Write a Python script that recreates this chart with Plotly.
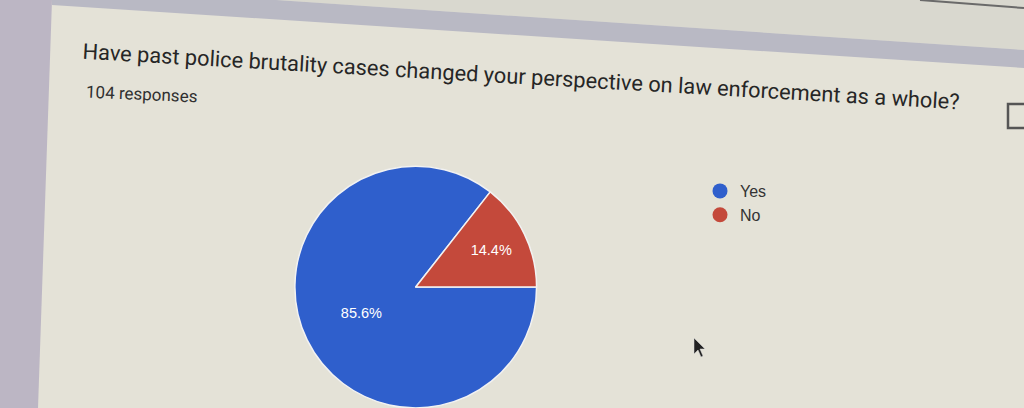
import plotly.graph_objects as go

# ---- data ----
labels = ["Yes", "No"]
counts = [89, 15]
colors = ["#2f5fcc", "#c4493b"]
title_text = "Have past police brutality cases changed your perspective on law enforcement as a whole?"
subtitle_text = "104 responses"

W, H = 1024, 408

fig = go.Figure()

fig.add_trace(go.Pie(
    labels=labels,
    values=counts,
    sort=False,
    direction="clockwise",
    rotation=90,
    marker=dict(colors=colors, line=dict(color="#f2f2f2", width=1.5)),
    texttemplate="%{percent:.1%}",
    textposition="inside",
    insidetextorientation="horizontal",
    textfont=dict(color="white", size=14.5, family="Liberation Sans, Arial"),
    domain=dict(x=[0.288, 0.524], y=[0.0, 0.593]),
    showlegend=False,
    hoverinfo="label+percent",
))

# legend entries with circular markers
for lab, col in zip(labels, colors):
    fig.add_trace(go.Scatter(
        x=[None], y=[None], mode="markers", name=lab,
        marker=dict(size=15, color=col, symbol="circle"),
        showlegend=True,
    ))

def px(x):
    return x / W

def py(y):
    return 1 - y / H

shapes = [
    # left darker strip (outside the card)
    dict(type="path", xref="paper", yref="paper",
         path=f"M 0 1 L {px(52)} 1 L {px(38)} 0 L 0 0 Z",
         fillcolor="#bcb6c4", line=dict(width=0), layer="below"),
    # area above the grey band
    dict(type="path", xref="paper", yref="paper",
         path=f"M {px(52)} 1 L 1 1 L 1 {py(50)} L {px(52)} {py(-15)} Z",
         fillcolor="#d9d8cf", line=dict(width=0), layer="below"),
    # grey band
    dict(type="path", xref="paper", yref="paper",
         path=f"M {px(52)} {py(-15)} L 1 {py(50)} L 1 {py(68)} L {px(52)} {py(5)} Z",
         fillcolor="#b9b9c4", line=dict(width=0), layer="below"),
    # thin dark line top right
    dict(type="line", xref="paper", yref="paper",
         x0=px(920), y0=py(0), x1=1, y1=py(8),
         line=dict(color="#6a6a6a", width=2), layer="below"),
    # icon at right edge
    dict(type="path", xref="paper", yref="paper",
         path=f"M {px(1024)} {py(104)} L {px(1008)} {py(104)} L {px(1008)} {py(128)} L {px(1024)} {py(128)}",
         line=dict(color="#555555", width=2.5)),
    # mouse cursor
    dict(type="path", xref="paper", yref="paper",
         path=(f"M {px(694)} {py(338)} L {px(694)} {py(354)} L {px(698)} {py(350)} "
               f"L {px(701)} {py(357)} L {px(703)} {py(356)} L {px(700)} {py(349)} "
               f"L {px(705)} {py(349)} Z"),
         fillcolor="#222222", line=dict(color="#dddddd", width=0.5)),
]

annotations = [
    dict(text=title_text, xref="paper", yref="paper",
         x=px(521), y=py(76), xanchor="center", yanchor="middle",
         showarrow=False, textangle=3.3,
         font=dict(size=21.8, color="#262626", family="Roboto, Open Sans, sans-serif")),
    dict(text=subtitle_text, xref="paper", yref="paper",
         x=px(84), y=py(94), xanchor="left", yanchor="middle",
         showarrow=False, textangle=2.5,
         font=dict(size=17, color="#303030", family="Roboto, sans-serif")),
]

fig.update_layout(
    width=W, height=H,
    margin=dict(l=0, r=0, t=0, b=0),
    paper_bgcolor="#e4e2d7",
    plot_bgcolor="rgba(0,0,0,0)",
    xaxis=dict(visible=False, domain=[0.9, 0.95]),
    yaxis=dict(visible=False, domain=[0.9, 0.95]),
    shapes=shapes,
    annotations=annotations,
    legend=dict(
        x=px(700), y=py(174), xanchor="left", yanchor="top",
        bgcolor="rgba(0,0,0,0)",
        font=dict(size=16, color="#333333", family="Liberation Sans, Arial"),
        itemwidth=30,
        tracegroupgap=0,
    ),
)

fig.write_html(
    "out.html",
    config={"displayModeBar": False},
    post_script="document.body.style.margin='0';document.body.style.overflow='hidden';",
)
